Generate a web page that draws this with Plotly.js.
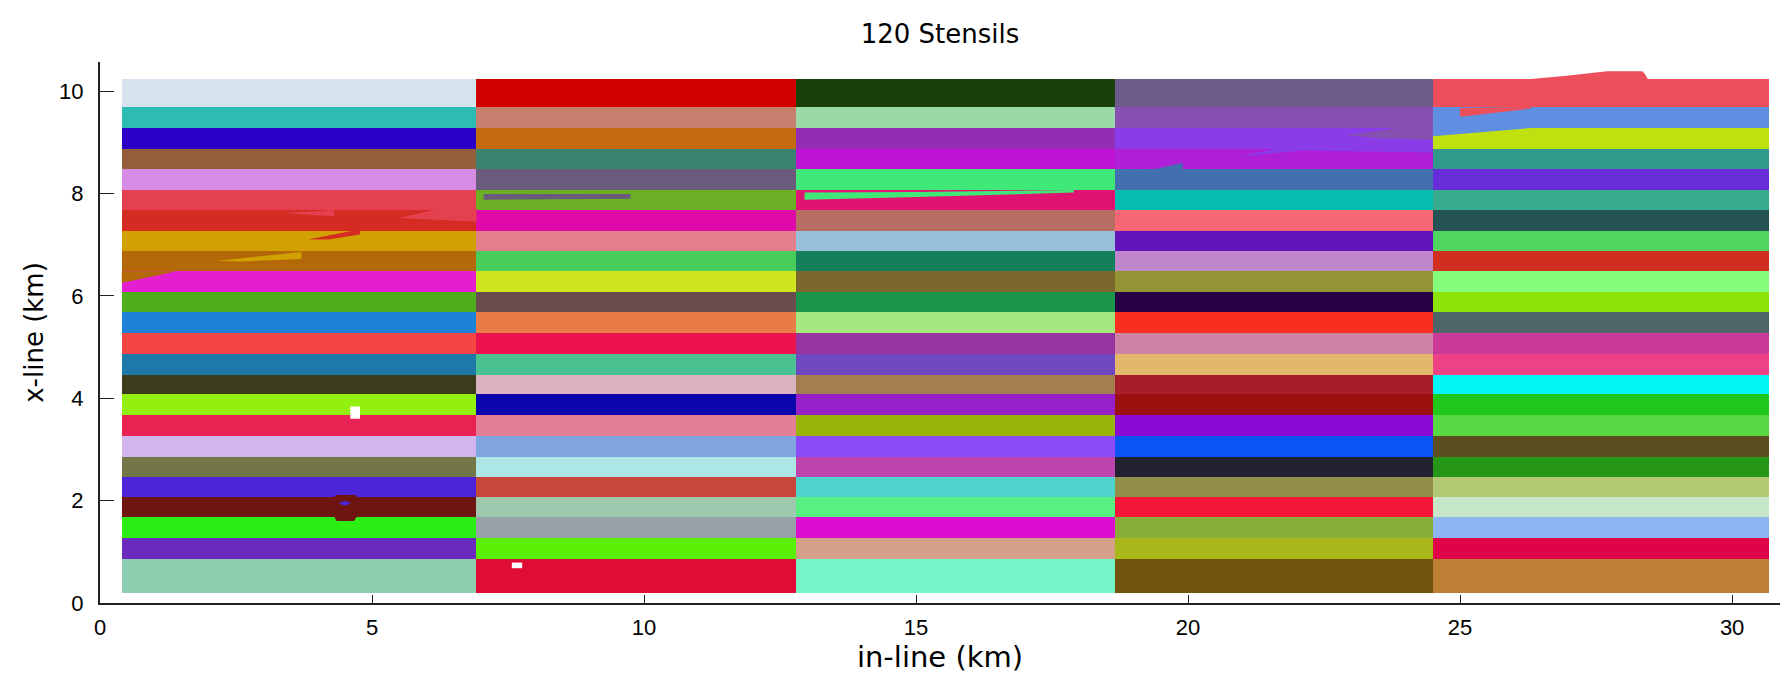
<!DOCTYPE html>
<html>
<head>
<meta charset="utf-8">
<script src="https://cdn.plot.ly/plotly-3.0.1.min.js"></script>
<style>html,body{margin:0;padding:0;background:#fff;}#chart{width:1780px;height:680px;}</style>
</head>
<body>
<div id="chart"></div>
<script>
// Stencil grid: 5 columns (in-line) x 24 rows (x-line)
const colEdges = [0.4, 6.92, 12.8, 18.65, 24.5, 30.67];
const rowEdges = [0.2, 0.85, 1.27, 1.68, 2.08, 2.47, 2.86, 3.26, 3.67, 4.08, 4.46, 4.86,
                  5.27, 5.68, 6.08, 6.48, 6.87, 7.27, 7.67, 8.07, 8.48, 8.87, 9.28, 9.69, 10.24];

// Colours of each stencil, listed from top row to bottom row
const col1Colors = ['#d6e3ef','#2dbcb3','#2a00c8','#935e3a','#d78be5','#e4404f','#d42c22','#d1a001',
                    '#b46807','#e41fd2','#4faf1b','#1e83d6','#f44545','#1e78a8','#3c3b1c','#93f00e',
                    '#e82253','#d0b6ea','#737646','#4d24d8','#6e1510','#2cee15','#6b2abd','#8ecdb0'];
const col2Colors = ['#d10000','#c77e6d','#c46a0f','#38846e','#6a5a7b','#6aaf24','#df0aa7','#e37f8b',
                    '#48cc5a','#cfe61e','#684c4e','#e97c46','#ec124c','#4ac190','#dbb3be','#0a05ab',
                    '#e37e98','#7fa4e0','#ade6e6','#c7473a','#9dc8ae','#96a1a5','#5af006','#df0d36'];
const col3Colors = ['#1a400a','#9adaa8','#922db4','#bf13d6','#40e877','#e01470','#b86d62','#98c0d8',
                    '#137f5b','#7d672c','#1b9549','#a6e77f','#96359f','#6f48c0','#a27e51','#9720c9',
                    '#98b309','#8a4af4','#bd44ad','#4fd3cf','#57f183','#dc0ecf','#d4a089','#77f4c8'];
const col4Colors = ['#6f5a8c','#8650b0','#8a3ce8','#af1fd6','#436fb1','#06beb0','#f76674','#6013b8',
                    '#bf86cb','#929435','#280044','#fa2e1e','#cd82a6','#e4b86b','#a71d29','#9d1010',
                    '#8a0ad4','#0a53f4','#222132','#938e47','#f31638','#8aaf38','#a8b71a','#725411'];
const col5Colors = ['#ec4f59','#5e8fe1','#c0e010','#2f998b','#662dd8','#36ab8d','#245252','#50d55f',
                    '#cf2e20','#83fd7a','#8ce106','#4d6568','#cb3a98','#ef4186','#03f6f6','#20c81c',
                    '#57d944','#5d4e1f','#269618','#b3ca74','#c6e8c8','#8db4f1','#df0348','#bc7f34'];
const columnColors = [col1Colors, col2Colors, col3Colors, col4Colors, col5Colors];

// Irregular intrusions between neighbouring stencils (colour, outline x, outline y)
const patchColors = ['#e4404f','#e4404f','#d42c22','#d1a001','#b46807',
                     '#6a5a7b','#40e877','#8650b0','#8a3ce8','#436fb1',
                     '#ec4f59','#ec4f59','#5e8fe1','#6e1510','#4d24d8','#ffffff','#ffffff'];
const patchX = [
  [5.5, 6.3, 6.92, 6.92],
  [3.4, 4.3, 4.3],
  [3.83, 4.78, 4.78, 4.2],
  [2.14, 3.7, 3.7, 2.6],
  [0.4, 1.4, 0.4],
  [7.05, 9.75, 9.75, 7.05],
  [12.95, 15.0, 17.9, 17.9, 15.0, 12.95],
  [22.9, 24.3, 24.5, 24.5, 23.5],
  [20.9, 22.1, 24.5, 24.5, 22.1],
  [18.75, 19.9, 19.9, 18.75],
  [26.3, 26.96, 27.45, 27.7, 28.35, 28.4, 28.45],
  [25.0, 26.3, 26.3, 25.0],
  [24.5, 26.3, 24.5],
  [4.3, 4.35, 4.7, 4.72, 4.72, 4.67, 4.35, 4.3],
  [4.38, 4.5, 4.62, 4.5],
  [4.6, 4.78, 4.78, 4.6],
  [7.57, 7.76, 7.76, 7.57]
];
const patchY = [
  [7.52, 7.72, 7.72, 7.45],
  [7.62, 7.68, 7.55],
  [7.1, 7.3, 7.2, 7.1],
  [6.68, 6.86, 6.72, 6.67],
  [6.25, 6.48, 6.48],
  [7.99, 7.99, 7.9, 7.88],
  [8.02, 8.03, 8.07, 8.02, 7.93, 7.88],
  [9.14, 9.35, 9.35, 9.05, 9.08],
  [8.72, 8.97, 8.9, 8.8, 8.84],
  [8.32, 8.6, 8.48, 8.42],
  [10.24, 10.3, 10.36, 10.39, 10.39, 10.33, 10.24],
  [9.5, 9.66, 9.69, 9.67],
  [9.28, 9.28, 9.12],
  [2.08, 2.11, 2.11, 2.08, 1.69, 1.6, 1.6, 1.69],
  [1.95, 2.0, 1.95, 1.9],
  [3.84, 3.84, 3.6, 3.6],
  [0.79, 0.79, 0.68, 0.68]
];

const traces = [];
columnColors.forEach((colors, c) => {
  const ys = [], hs = [], xs = [], bases = [], cols = [];
  for (let r = 0; r < rowEdges.length - 1; r++) {
    ys.push((rowEdges[r] + rowEdges[r + 1]) / 2);
    hs.push(rowEdges[r + 1] - rowEdges[r]);
    bases.push(colEdges[c]);
    xs.push(colEdges[c + 1] - colEdges[c]);
    cols.push(colors[colors.length - 1 - r]);
  }
  traces.push({
    type: 'bar', orientation: 'h', x: xs, base: bases, y: ys, width: hs,
    marker: {color: cols, line: {width: 0}}, showlegend: false, hoverinfo: 'skip'
  });
});
patchX.forEach((px, i) => {
  traces.push({
    type: 'scatter', mode: 'lines', x: px.concat([px[0]]), y: patchY[i].concat([patchY[i][0]]),
    fill: 'toself', fillcolor: patchColors[i], line: {width: 0, color: patchColors[i]},
    showlegend: false, hoverinfo: 'skip'
  });
});

const tickFont = {family: 'Liberation Sans, Arial, sans-serif', size: 22, color: '#000'};
const titleFont = {family: 'DejaVu Sans, sans-serif', size: 26, color: '#000'};
const layout = {
  width: 1780, height: 680,
  margin: {l: 100, r: 0, t: 62, b: 77},
  paper_bgcolor: '#fff', plot_bgcolor: '#fff',
  barmode: 'overlay', bargap: 0,
  title: {text: '120 Stensils', font: titleFont, x: 0.5, xref: 'paper', y: 0.95, yref: 'container', yanchor: 'middle'},
  xaxis: {
    range: [0, 30.88], dtick: 5, tick0: 0, ticks: 'inside', ticklen: 8, tickcolor: '#222',
    showline: true, linecolor: '#222', linewidth: 2, showgrid: false, zeroline: false,
    tickfont: tickFont, ticklabelstandoff: 4,
    title: {text: 'in-line (km)', font: {family: 'DejaVu Sans, sans-serif', size: 29, color: '#000'}, standoff: 4}
  },
  yaxis: {
    range: [0, 10.57], dtick: 2, tick0: 0, ticks: 'inside', ticklen: 14, tickcolor: '#222',
    showline: true, linecolor: '#222', linewidth: 2, showgrid: false, zeroline: false,
    tickfont: tickFont, ticklabelstandoff: 10,
    title: {text: 'x-line (km)', font: {family: 'DejaVu Sans, sans-serif', size: 26, color: '#000'}, standoff: 8}
  }
};
Plotly.newPlot('chart', traces, layout, {displayModeBar: false, staticPlot: true});
</script>
</body>
</html>
